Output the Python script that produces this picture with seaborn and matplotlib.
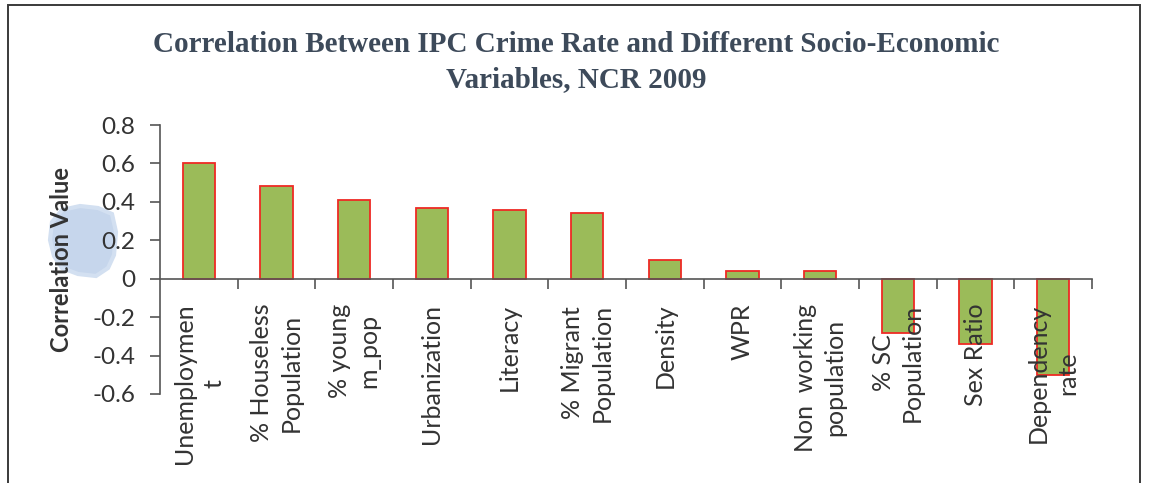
import matplotlib
matplotlib.use("Agg")
import matplotlib.pyplot as plt
from matplotlib.patches import Polygon, Rectangle
from matplotlib.ticker import FixedLocator
import numpy as np
import pandas as pd
import seaborn as sns

categories = [
    "Unemploymen\nt", "% Houseless\nPopulation", "% young\nm_pop", "Urbanization",
    "Literacy", "% Migrant\nPopulation", "Density", "WPR",
    "Non  working\npopulation", "% SC\nPopulation", "Sex Ratio", "Dependency\nrate",
]
correlations = [0.60, 0.48, 0.41, 0.37, 0.36, 0.34, 0.10, 0.04, 0.04, -0.28, -0.34, -0.50]
y_ticks = [-0.6, -0.4, -0.2, 0, 0.2, 0.4, 0.6, 0.8]
y_tick_labels = ["-0.6", "-0.4", "-0.2", "0", "0.2", "0.4", "0.6", "0.8"]

sns.set_style("white")
plt.rcParams["font.family"] = ["Lato", "DejaVu Sans"]

df = pd.DataFrame({"variable": categories, "value": correlations})

W, H = 1149, 483
fig = plt.figure(figsize=(W / 100, H / 100), dpi=100)
fig.patch.set_facecolor("white")

# outer chart frame
fig.add_artist(Rectangle((8 / W, -0.05), 1132 / W, 1 - 5 / H + 0.05,
                         transform=fig.transFigure, fill=False,
                         edgecolor="#3a3a3a", linewidth=1.4))

# pale blue smudge behind the axis title
smudge_px = [(52, 222), (62, 210), (80, 206), (98, 208), (112, 214), (116, 232),
             (114, 255), (108, 268), (96, 276), (78, 274), (62, 268), (54, 256), (50, 240)]
fig.add_artist(Polygon([(x / W, 1 - y / H) for x, y in smudge_px], closed=True,
                       transform=fig.transFigure, facecolor="#c6d6ec",
                       edgecolor="#d3e0f1", linewidth=3, zorder=0))

ax = fig.add_axes([160 / W, 1 - 394 / H, (1092 - 160) / W, (394 - 125) / H])
ax.set_facecolor("none")

sns.barplot(data=df, x="variable", y="value", color="#9bbb59", saturation=1,
            edgecolor="#ee2a24", linewidth=1.3, width=0.42, ax=ax)

ax.set_xlim(-0.5, len(categories) - 0.5)
ax.set_ylim(-0.6, 0.8)
ax.set_yticks(y_ticks)
ax.set_yticklabels(y_tick_labels, fontsize=17.5, color="#333333")

for s in ["top", "right"]:
    ax.spines[s].set_visible(False)
ax.spines["bottom"].set_position(("data", 0))
for s in ["left", "bottom"]:
    ax.spines[s].set_color("#555555")
    ax.spines[s].set_linewidth(1.2)

ax.tick_params(axis="y", direction="out", length=7, width=1.2, color="#555555", left=True, pad=11)
ax.set_xticks(range(len(categories)))
ax.set_xticklabels([])
ax.tick_params(axis="x", which="major", length=0)
ax.xaxis.set_minor_locator(FixedLocator(np.arange(0.5, len(categories), 1.0)))
ax.tick_params(axis="x", which="minor", direction="out", length=7, width=1.2,
               color="#555555", bottom=True)

# category labels hang below the zero line
for i, lab in enumerate(categories):
    ax.text(i, -0.13, lab, rotation=90, ha="center", va="top", multialignment="center",
            fontsize=18, color="#333333", linespacing=1.35)

ax.set_xlabel("")
ax.set_ylabel("Correlation Value", fontsize=17, fontweight="bold", color="#333333", labelpad=14)

fig.text(576 / W, 1 - 62 / H,
         "Correlation Between IPC Crime Rate and Different Socio-Economic\nVariables, NCR 2009",
         ha="center", va="center", fontsize=21, fontweight="bold",
         family=["Liberation Serif"], color="#3d4a5a", linespacing=1.38)

fig.savefig("out.png", dpi=100, facecolor="white")
